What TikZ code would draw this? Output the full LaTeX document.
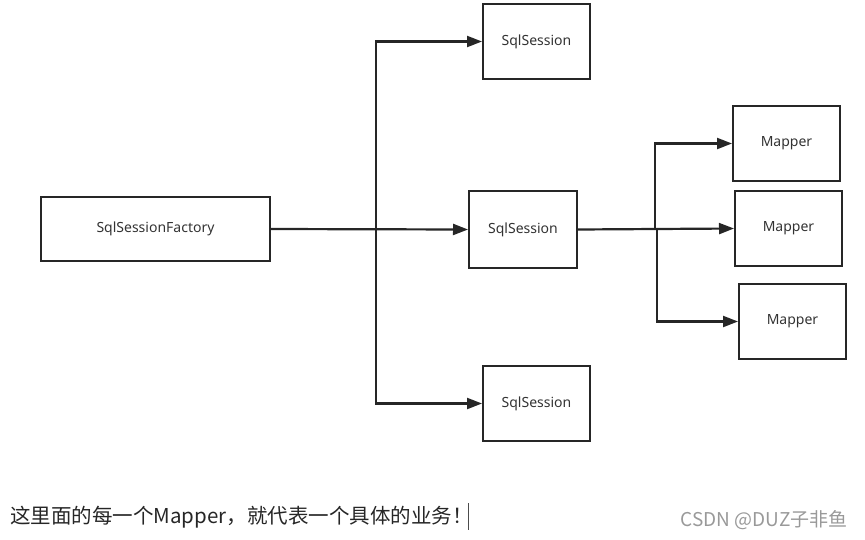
\documentclass[tikz,border=0pt]{standalone}
\usepackage{fontspec}
\setmainfont{Noto Sans}
\newfontfamily\cjk{Noto Sans CJK SC}
\usetikzlibrary{arrows.meta}
\begin{document}
\begin{tikzpicture}[x=1pt,y=-1pt,
  box/.style={draw=black!85,line width=2pt,minimum width=#1,inner sep=0pt,font=\fontsize{14}{16}\selectfont,text=black!80},
  conn/.style={draw=black!85,line width=2.2pt,-{Triangle[length=15pt,width=11pt]}},
  plain/.style={draw=black!85,line width=2.2pt}]
\useasboundingbox (0,0) rectangle (865,539);
\node[box=229pt,minimum height=64pt] (f) at (155.5,229) {SqlSessionFactory};
\node[box=107pt,minimum height=75pt] (s1) at (536.5,41.5) {SqlSession};
\node[box=108pt,minimum height=77pt] (s2) at (523,229.5) {SqlSession};
\node[box=107pt,minimum height=75pt] (s3) at (536.5,403.5) {SqlSession};
\node[box=107pt,minimum height=75pt] (m1) at (786.5,143.5) {Mapper};
\node[box=107pt,minimum height=75pt] (m2) at (788.5,228.5) {Mapper};
\node[box=107pt,minimum height=75pt] (m3) at (792.5,321.5) {Mapper};
\coordinate (b1) at (376,229);
\coordinate (b2) at (655,229);
\draw[conn] (f.east) -- (s2.west);
\draw[conn] (b1) |- (s1.west);
\draw[conn] (b1) |- (s3.west);
\draw[conn] (s2.east) -- (m2.west);
\draw[conn] (b2) |- (m1.west);
\draw[conn] ([xshift=2pt]b2) |- (m3.west);
\node[anchor=west,inner sep=0pt,font=\cjk\fontsize{20.5}{23}\selectfont,text=black!85] (t) at (10,517) {这里面的每一个Mapper，就代表一个具体的业务！};
\coordinate (c1) at (468,503);
\coordinate (c2) at (468,530);
\draw[black!70,line width=0.8pt] (c1) -- (c2);
\node[anchor=east,inner sep=0pt,font=\cjk\fontsize{19}{21}\selectfont,text=black!40] (w) at (848,520) {CSDN @DUZ子非鱼};
\end{tikzpicture}
\end{document}
